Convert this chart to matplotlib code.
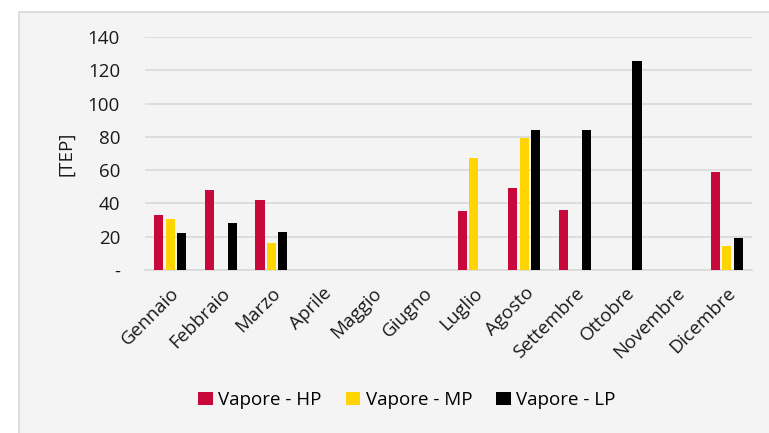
import matplotlib.pyplot as plt
import numpy as np
from matplotlib.patches import Rectangle

plt.rcParams['font.family'] = ['Open Sans', 'DejaVu Sans']

mesi = ['Gennaio', 'Febbraio', 'Marzo', 'Aprile', 'Maggio', 'Giugno',
        'Luglio', 'Agosto', 'Settembre', 'Ottobre', 'Novembre', 'Dicembre']
vapore_hp = [33, 48, 42, 0, 0, 0, 35.5, 49, 36, 0, 0, 59]
vapore_mp = [30.5, 0, 16.5, 0, 0, 0, 67, 79.5, 0, 0, 0, 14.5]
vapore_lp = [22, 28, 23, 0, 0, 0, 0, 84, 84, 125.5, 0, 19.5]
y_ticks = [0, 20, 40, 60, 80, 100, 120, 140]
y_labels = ['-', '20', '40', '60', '80', '100', '120', '140']

fig = plt.figure(figsize=(7.69, 4.33), dpi=100, facecolor='white')

# chart area background with light border
bg = Rectangle((19 / 769, -0.05), 1.0, (433 - 12) / 433 + 0.05,
               transform=fig.transFigure, facecolor='#f4f4f4',
               edgecolor='#d9d9d9', linewidth=1.2, zorder=-1)
fig.patches.append(bg)

ax = fig.add_axes([145 / 769, (433 - 270) / 433, (752 - 145) / 769, (270 - 37) / 433])
ax.set_facecolor('none')
ax.set_zorder(2)

x = np.arange(len(mesi))
w = 0.18
step = 0.227
ax.bar(x - step, vapore_hp, w, color='#c8073a', label='Vapore - HP', zorder=3)
ax.bar(x, vapore_mp, w, color='#ffd400', label='Vapore - MP', zorder=3)
ax.bar(x + step, vapore_lp, w, color='#000000', label='Vapore - LP', zorder=3)

ax.set_xlim(-0.5, len(mesi) - 0.5)
ax.set_ylim(0, 140)
ax.set_yticks(y_ticks)
ax.set_yticklabels(y_labels, fontsize=13.5, color='#1a1a1a')
ax.yaxis.grid(True, color='#d9d9d9', linewidth=1.2, zorder=0)
ax.set_axisbelow(True)

ax.set_xticks(x)
ax.set_xticklabels(mesi, rotation=45, ha='right', rotation_mode='anchor',
                   fontsize=13.5, color='#1a1a1a')
ax.tick_params(axis='y', length=0, pad=18)
ax.tick_params(axis='x', length=0, pad=10)

for s in ['top', 'right', 'left']:
    ax.spines[s].set_visible(False)
ax.spines['bottom'].set_color('#d9d9d9')
ax.spines['bottom'].set_linewidth(1.2)

ax.set_ylabel('[TEP]', fontsize=13.5, color='#1a1a1a', labelpad=9)

fig.legend(loc='center', bbox_to_anchor=(407 / 769, 1 - 400 / 433), ncol=3,
           frameon=False, fontsize=13.5, handlelength=0.75, handleheight=0.75,
           handletextpad=0.3, columnspacing=1.3)

fig.savefig('out.png', dpi=100, facecolor='white')
